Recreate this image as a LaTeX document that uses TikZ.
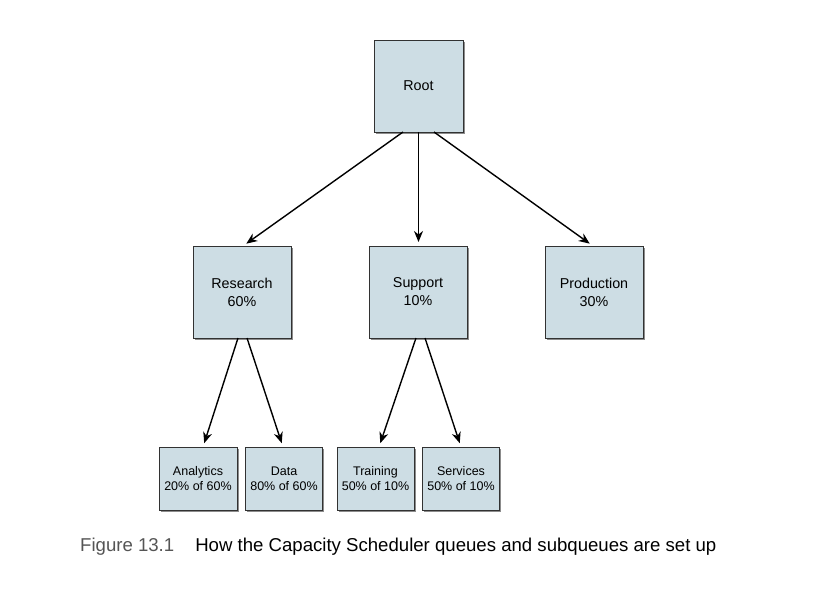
\documentclass[tikz,border=0pt]{standalone}
\usepackage{fontspec}
\setmainfont{Liberation Sans}
\usetikzlibrary{arrows.meta,shadows}
\definecolor{boxfill}{RGB}{205,221,228}
\definecolor{boxline}{RGB}{50,50,50}
\definecolor{capgray}{RGB}{85,85,85}
\tikzset{
  qbox/.style={draw=boxline, line width=0.9pt, fill=boxfill, inner sep=0pt, outer sep=0pt,
    align=center, drop shadow={shadow xshift=1.8pt, shadow yshift=-1.8pt, opacity=0.45, fill=black}},
  bigbox/.style={qbox, minimum width=98pt, minimum height=92pt, font=\fontsize{14.3}{18}\selectfont},
  smallbox/.style={qbox, minimum width=77pt, minimum height=63pt, font=\fontsize{12.5}{15}\selectfont},
  conn/.style={draw=black, line width=1.4pt, -{Stealth[length=11pt,width=9pt,inset=3.5pt]}, shorten >=4pt}
}
\begin{document}
\begin{tikzpicture}[x=1pt,y=-1pt]
\useasboundingbox[fill=white] (0,0) rectangle (834,596);
\node[bigbox, minimum width=89pt] (root) at (418.5,86) {Root};
\node[bigbox] (research) at (242,292) {Research\\60\%};
\node[bigbox] (support) at (418,292) {Support\\10\%};
\node[bigbox] (production) at (594,292) {Production\\30\%};
\node[smallbox, minimum width=78pt] (analytics) at (198,478.5) {Analytics\\20\% of 60\%};
\node[smallbox] (data) at (284,478.5) {Data\\80\% of 60\%};
\node[smallbox] (training) at (375.5,478.5) {Training\\50\% of 10\%};
\node[smallbox] (services) at (461,478.5) {Services\\50\% of 10\%};
\draw[conn] ([xshift=-15.5pt]root.south) -- ([xshift=1pt]research.north);
\draw[conn] (root.south) -- ([xshift=0.5pt]support.north);
\draw[conn] ([xshift=15.5pt]root.south) -- ([xshift=-1pt]production.north);
\draw[conn] ([xshift=-4pt]research.south) -- ([xshift=5pt]analytics.north);
\draw[conn] ([xshift=5pt]research.south) -- ([xshift=-1pt]data.north);
\draw[conn] ([xshift=-2pt]support.south) -- ([xshift=3.5pt]training.north);
\draw[conn] ([xshift=7pt]support.south) -- (services.north);
\node[anchor=base west, inner sep=0pt, font=\fontsize{18.6}{22}\selectfont] (caption) at (80,551)
  {\textcolor{capgray}{Figure 13.1}\hspace{21pt}How the Capacity Scheduler queues and subqueues are set up};
\end{tikzpicture}
\end{document}
